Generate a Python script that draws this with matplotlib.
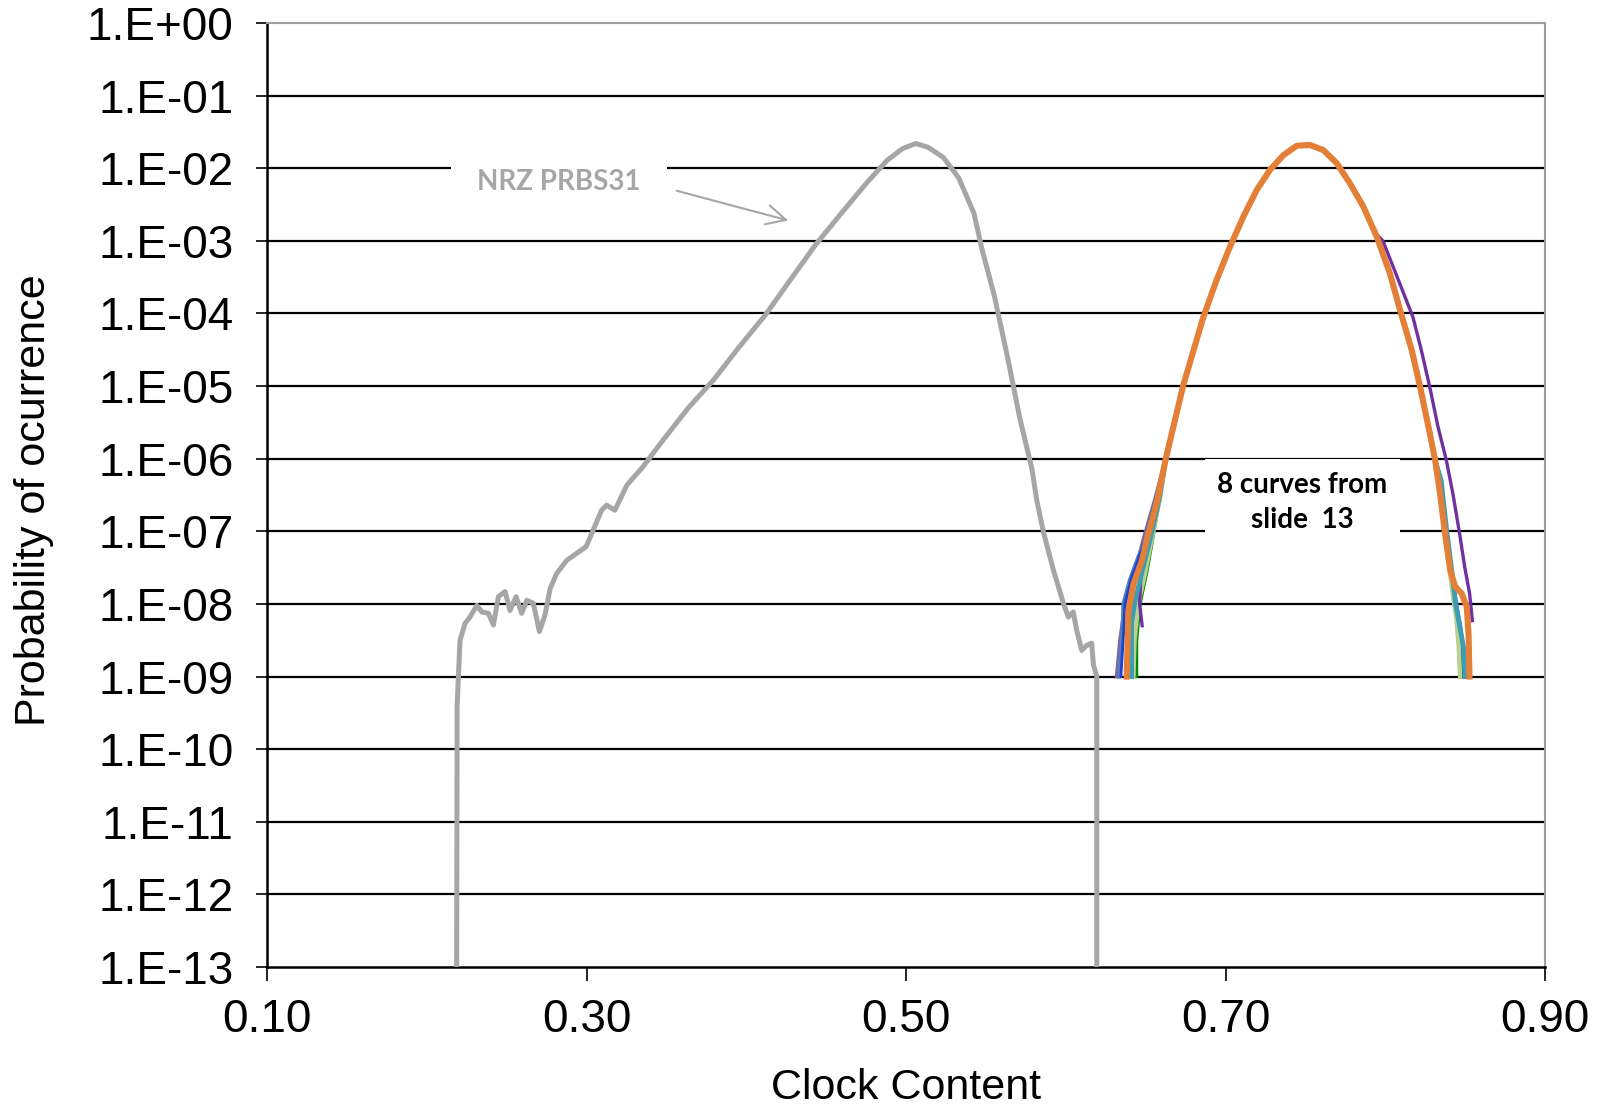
import numpy as np
import matplotlib
matplotlib.use('Agg')
import matplotlib.pyplot as plt
from matplotlib.ticker import NullLocator

plt.rcParams['font.family'] = ['Liberation Sans', 'DejaVu Sans']

# NRZ PRBS31 reference curve (clock content, log10 probability)
nrz_x = [0.2187, 0.2190, 0.2208, 0.2239, 0.2271, 0.2313, 0.2344, 0.2386, 0.2417, 0.2448,
         0.2490, 0.2521, 0.2559, 0.2594, 0.2626, 0.2667, 0.2705, 0.2740, 0.2772, 0.2813,
         0.2876, 0.2998, 0.3094, 0.3126, 0.3177, 0.3254, 0.3350, 0.3477, 0.3637, 0.3797,
         0.3956, 0.4116, 0.4275, 0.4435, 0.4595, 0.4754, 0.4882, 0.4978, 0.5060, 0.5137,
         0.5233, 0.5329, 0.5425, 0.5476, 0.5552, 0.5635, 0.5712, 0.5789, 0.5818, 0.5860,
         0.5922, 0.5985, 0.6016, 0.6047, 0.6068, 0.6100, 0.6131, 0.6162, 0.6173, 0.6194,
         0.6194]
nrz_lp = [-13.0, -9.40, -8.50, -8.27, -8.18, -8.02, -8.11, -8.13, -8.29, -7.90,
          -7.83, -8.09, -7.90, -8.13, -7.95, -7.99, -8.38, -8.15, -7.79, -7.58,
          -7.40, -7.21, -6.71, -6.64, -6.71, -6.36, -6.12, -5.75, -5.30, -4.91,
          -4.46, -4.03, -3.54, -3.05, -2.62, -2.20, -1.89, -1.73, -1.66, -1.71,
          -1.85, -2.13, -2.62, -3.12, -3.75, -4.60, -5.44, -6.15, -6.57, -7.01,
          -7.53, -7.99, -8.18, -8.11, -8.36, -8.64, -8.57, -8.54, -8.84, -9.00,
          -13.0]

# shared central part of the 8 curves from slide 13
core_x = [0.6626, 0.6734, 0.6861, 0.6944, 0.7028, 0.7111, 0.7195, 0.7279, 0.7362,
          0.7446, 0.7529, 0.7612, 0.7696, 0.7779, 0.7863]
core_lp = [-6.00, -5.00, -4.05, -3.54, -3.08, -2.67, -2.30, -2.02, -1.82,
           -1.69, -1.68, -1.75, -1.93, -2.21, -2.53]
right_x = [0.7946, 0.8029, 0.8092, 0.8165, 0.8218, 0.8270, 0.8312]
right_lp = [-2.94, -3.45, -3.95, -4.50, -5.01, -5.56, -6.02]

# per-curve tails
names = ['lavender', 'steel', 'blue', 'green', 'lightgreen', 'purple', 'teal', 'orange']
colors = ['#8064A2', '#4F81BD', '#1F3FD0', '#008A00', '#B9D08E', '#7030A0', '#3C9DB4', '#E47F38']
widths = [2.8, 2.8, 2.0, 2.2, 3.2, 2.4, 3.4, 4.4]

left_x = {
    'lavender':   [0.6319, 0.6340, 0.6360, 0.6400, 0.6444, 0.6485, 0.6560],
    'steel':      [0.6336, 0.6357, 0.6360, 0.6401, 0.6454, 0.6496, 0.6565],
    'blue':       [0.6345, 0.6362, 0.6370, 0.6410, 0.6460, 0.6500, 0.6565],
    'green':      [0.6444, 0.6444, 0.6465, 0.6506, 0.6537, 0.6560, 0.6590],
    'lightgreen': [0.6423, 0.6430, 0.6454, 0.6496, 0.6537, 0.6560, 0.6590],
    'purple':     [0.6478, 0.6462, 0.6470, 0.6495, 0.6520, 0.6550, 0.6580],
    'teal':       [0.6412, 0.6412, 0.6433, 0.6485, 0.6527, 0.6555, 0.6585],
    'orange':     [0.6381, 0.6392, 0.6424, 0.6477, 0.6506, 0.6540, 0.6575],
}
left_lp = {
    'lavender':   [-9.00, -8.50, -8.18, -7.81, -7.49, -7.12, -6.55],
    'steel':      [-9.00, -8.27, -8.00, -7.67, -7.35, -7.12, -6.55],
    'blue':       [-9.00, -8.40, -8.00, -7.65, -7.35, -7.10, -6.55],
    'green':      [-9.00, -8.50, -8.00, -7.58, -7.20, -6.90, -6.55],
    'lightgreen': [-9.00, -8.50, -8.00, -7.58, -7.12, -6.85, -6.55],
    'purple':     [-8.30, -8.00, -7.60, -7.20, -6.95, -6.75, -6.50],
    'teal':       [-9.00, -8.27, -7.96, -7.49, -7.12, -6.85, -6.55],
    'orange':     [-9.00, -8.10, -7.72, -7.40, -7.12, -6.85, -6.55],
}
tail_x = {
    'lavender':   [0.8345, 0.8378, 0.8410, 0.8445, 0.8475, 0.8500],
    'steel':      [0.8345, 0.8376, 0.8410, 0.8440, 0.8470, 0.8490],
    'blue':       [0.8345, 0.8376, 0.8412, 0.8442, 0.8470, 0.8488],
    'green':      [0.8340, 0.8372, 0.8405, 0.8432, 0.8455, 0.8475],
    'lightgreen': [0.8340, 0.8370, 0.8400, 0.8425, 0.8445, 0.8460, 0.8468],
    'purple':     [],
    'teal':       [0.8350, 0.8385, 0.8420, 0.8440, 0.8465, 0.8490, 0.8499],
    'orange':     [0.8343, 0.8374, 0.8406, 0.8437, 0.8479, 0.8510, 0.8521, 0.8527],
}
tail_lp = {
    'lavender':   [-6.48, -7.03, -7.55, -8.00, -8.40, -9.00],
    'steel':      [-6.48, -7.03, -7.60, -8.00, -8.30, -9.00],
    'blue':       [-6.48, -7.03, -7.60, -8.05, -8.40, -9.00],
    'green':      [-6.45, -7.00, -7.50, -7.95, -8.40, -9.00],
    'lightgreen': [-6.40, -7.00, -7.50, -7.90, -8.20, -8.60, -9.00],
    'purple':     [],
    'teal':       [-6.30, -7.00, -7.60, -8.00, -8.30, -8.60, -9.00],
    'orange':     [-6.48, -7.03, -7.53, -7.76, -7.86, -8.04, -8.41, -9.00],
}
# purple separates from the bundle on the falling side
purple_right_x = [0.7950, 0.7985, 0.8091, 0.8173, 0.8225, 0.8278, 0.8330, 0.8382,
                  0.8423, 0.8465, 0.8497, 0.8528, 0.8545]
purple_right_lp = [-2.92, -3.00, -3.59, -4.05, -4.50, -5.01, -5.56, -6.02,
                   -6.48, -7.03, -7.49, -7.86, -8.23]

ytick_exp = list(range(0, -14, -1))
xticks = [0.10, 0.30, 0.50, 0.70, 0.90]

fig = plt.figure(figsize=(16, 11.11), dpi=100)
ax = fig.add_axes([0.1669, 0.1296, 0.79875, 0.8497])

ax.set_yscale('log')
ax.set_xlim(0.1, 0.9)
ax.set_ylim(1e-13, 1e0)
ax.set_yticks([10.0 ** e for e in ytick_exp])
ax.set_yticklabels(['1.E%+03d' % e for e in ytick_exp])
ax.yaxis.set_minor_locator(NullLocator())
ax.set_xticks(xticks)
ax.set_xticklabels(['%.2f' % v for v in xticks])
ax.tick_params(axis='y', length=8, width=1.2, pad=16, labelsize=33)
ax.tick_params(axis='x', length=10, width=1.2, pad=12, labelsize=33)

ax.grid(axis='y', color='black', lw=1.6)
gl = ax.yaxis.get_gridlines()
gl[0].set_visible(False)
gl[-1].set_visible(False)
ax.set_axisbelow(True)

for s in ['top', 'right']:
    ax.spines[s].set_color('#A0A0A0')
    ax.spines[s].set_linewidth(1.5)
for s in ['left', 'bottom']:
    ax.spines[s].set_color('black')
    ax.spines[s].set_linewidth(1.8)

ax.plot(nrz_x, 10 ** np.array(nrz_lp), color='#A6A6A6', lw=3.6, zorder=3,
        solid_joinstyle='round')

for name, col, lw in zip(names, colors, widths):
    if name == 'purple':
        xs = left_x[name] + core_x + purple_right_x
        ys = left_lp[name] + core_lp + purple_right_lp
    else:
        xs = left_x[name] + core_x + right_x + tail_x[name]
        ys = left_lp[name] + core_lp + right_lp + tail_lp[name]
    ax.plot(xs, 10 ** np.array(ys), color=col, lw=lw, zorder=4, solid_joinstyle='round')

ax.text(0.2828, 10 ** -2.19, 'NRZ PRBS31', family=['Lato', 'DejaVu Sans'], fontweight='bold',
        fontsize=20, color='#A6A6A6', ha='center', va='center', zorder=2.5,
        bbox=dict(boxstyle='square,pad=0.95', facecolor='white', edgecolor='none'))
ax.annotate('', xy=(0.4263, 10 ** -2.72), xytext=(0.3565, 10 ** -2.31),
            arrowprops=dict(arrowstyle='->,head_length=0.7,head_width=0.35', color='#A6A6A6',
                            lw=1.5, mutation_scale=20, shrinkA=0, shrinkB=0), zorder=3)
ax.text(0.7482, 10 ** -6.605, '8 curves from\nslide  13', family=['Lato', 'DejaVu Sans'],
        fontweight='bold', fontsize=20, color='black', ha='center', va='center',
        linespacing=1.45, zorder=2.5,
        bbox=dict(boxstyle='square,pad=0.45', facecolor='white', edgecolor='none'))

fig.text(0.5663, 1 - 1099 / 1111, 'Clock Content', fontsize=31, ha='center', va='baseline')
fig.text(0.021, 1 - 500 / 1111, 'Probability of ocurrence', fontsize=31, rotation=90,
         ha='center', va='center')

plt.savefig('out.png', dpi=100)
